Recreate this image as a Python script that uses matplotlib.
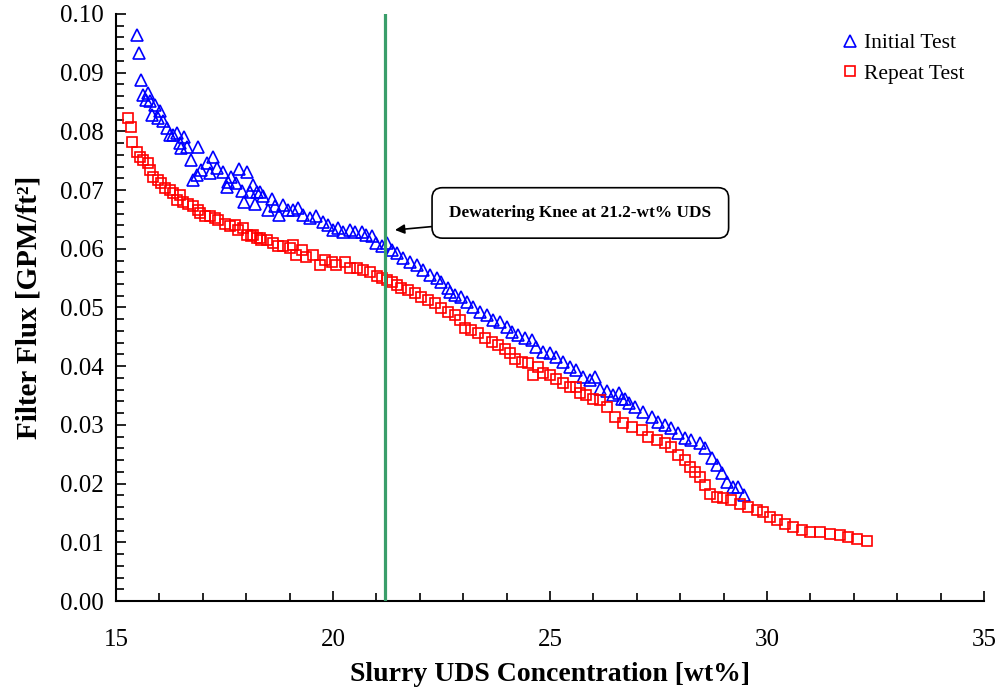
import matplotlib
matplotlib.use('Agg')
import matplotlib.pyplot as plt
from matplotlib.ticker import MultipleLocator, FormatStrFormatter

# Initial test (blue triangles)
init_x = [15.48, 15.53, 15.58, 15.63, 15.74, 15.69, 15.78, 15.90, 15.84, 16.01,
          15.97, 16.09, 16.17, 16.24, 16.32, 16.40, 16.47, 16.56, 16.51, 16.63,
          16.72, 16.90, 16.78, 16.86, 16.97, 17.09, 17.24, 17.17, 17.32, 17.47,
          17.55, 17.59, 17.66, 17.76, 17.84, 17.90, 17.95, 18.01, 18.09, 18.15,
          18.20, 18.24, 18.32, 18.39, 18.51, 18.59, 18.66, 18.76, 18.85, 18.97,
          19.09, 19.20, 19.32, 19.47, 19.62, 19.78, 19.89, 20.01, 20.12, 20.24,
          20.39, 20.51, 20.66, 20.77, 20.89, 20.99, 21.12, 21.24, 21.35, 21.47,
          21.62, 21.77, 21.93, 22.08, 22.24, 22.39, 22.50, 22.66, 22.70, 22.81,
          22.96, 23.08, 23.23, 23.39, 23.54, 23.69, 23.85, 24.00, 24.12, 24.27,
          24.42, 24.58, 24.69, 24.85, 25.00, 25.15, 25.31, 25.46, 25.61, 25.77,
          25.92, 26.04, 26.15, 26.31, 26.46, 26.58, 26.65, 26.73, 26.81, 26.96,
          27.15, 27.34, 27.50, 27.65, 27.80, 27.96, 28.11, 28.26, 28.46, 28.57,
          28.73, 28.84, 28.96, 29.07, 29.22, 29.34, 29.47]
init_y = [0.0964, 0.0933, 0.0888, 0.0862, 0.0865, 0.0853, 0.0851, 0.0845, 0.0828, 0.0834,
          0.0822, 0.0817, 0.0805, 0.0794, 0.0794, 0.0797, 0.0780, 0.0791, 0.0771, 0.0774,
          0.0751, 0.0774, 0.0717, 0.0726, 0.0734, 0.0746, 0.0757, 0.0729, 0.0737, 0.0731,
          0.0706, 0.0714, 0.0723, 0.0712, 0.0736, 0.0699, 0.0680, 0.0731, 0.0697, 0.0708,
          0.0676, 0.0697, 0.0697, 0.0689, 0.0666, 0.0685, 0.0672, 0.0658, 0.0675, 0.0666,
          0.0666, 0.0669, 0.0658, 0.0652, 0.0655, 0.0646, 0.0641, 0.0632, 0.0635, 0.0629,
          0.0632, 0.0629, 0.0629, 0.0624, 0.0621, 0.0609, 0.0604, 0.0609, 0.0598, 0.0592,
          0.0584, 0.0578, 0.0572, 0.0564, 0.0555, 0.0550, 0.0544, 0.0533, 0.0527, 0.0521,
          0.0518, 0.0510, 0.0501, 0.0493, 0.0487, 0.0479, 0.0476, 0.0467, 0.0459, 0.0453,
          0.0448, 0.0445, 0.0433, 0.0425, 0.0422, 0.0416, 0.0408, 0.0399, 0.0394, 0.0382,
          0.0376, 0.0382, 0.0362, 0.0357, 0.0351, 0.0355, 0.0345, 0.0345, 0.0337, 0.0331,
          0.0322, 0.0314, 0.0305, 0.0300, 0.0294, 0.0286, 0.0277, 0.0274, 0.0269, 0.0260,
          0.0243, 0.0232, 0.0218, 0.0203, 0.0195, 0.0195, 0.0181]

# Repeat test (red squares)
rep_x = [15.28, 15.34, 15.38, 15.48, 15.55, 15.63, 15.73, 15.78, 15.86, 15.97,
         16.05, 16.13, 16.24, 16.32, 16.47, 16.40, 16.55, 16.66, 16.78, 16.90,
         16.94, 17.05, 17.17, 17.28, 17.36, 17.51, 17.63, 17.74, 17.82, 17.93,
         18.01, 18.12, 18.16, 18.24, 18.32, 18.35, 18.47, 18.62, 18.74, 18.85,
         19.01, 19.09, 19.16, 19.28, 19.39, 19.55, 19.70, 19.82, 19.97, 20.08,
         20.28, 20.39, 20.55, 20.70, 20.85, 21.01, 21.12, 21.24, 21.35, 21.47,
         21.58, 21.73, 21.89, 22.04, 22.19, 22.35, 22.50, 22.66, 22.81, 22.93,
         23.04, 23.19, 23.35, 23.50, 23.66, 23.81, 23.96, 24.08, 24.19, 24.35,
         24.50, 24.61, 24.73, 24.85, 25.00, 25.15, 25.31, 25.46, 25.61, 25.69,
         25.84, 26.00, 26.15, 26.31, 26.50, 26.69, 26.88, 27.11, 27.27, 27.46,
         27.65, 27.80, 27.96, 28.11, 28.23, 28.34, 28.46, 28.57, 28.69, 28.84,
         28.99, 29.18, 29.38, 29.57, 29.76, 29.91, 30.07, 30.22, 30.41, 30.61,
         30.80, 30.99, 31.22, 31.45, 31.68, 31.87, 32.07, 32.30]
rep_y = [0.0822, 0.0808, 0.0782, 0.0765, 0.0757, 0.0751, 0.0746, 0.0734, 0.0723, 0.0717,
         0.0712, 0.0703, 0.0700, 0.0695, 0.0692, 0.0683, 0.0680, 0.0677, 0.0672, 0.0666,
         0.0661, 0.0655, 0.0655, 0.0652, 0.0649, 0.0643, 0.0638, 0.0641, 0.0632, 0.0635,
         0.0624, 0.0621, 0.0624, 0.0618, 0.0618, 0.0615, 0.0615, 0.0609, 0.0604, 0.0604,
         0.0601, 0.0606, 0.0589, 0.0598, 0.0586, 0.0589, 0.0572, 0.0581, 0.0578, 0.0572,
         0.0578, 0.0567, 0.0567, 0.0564, 0.0561, 0.0553, 0.0550, 0.0547, 0.0544, 0.0538,
         0.0533, 0.0530, 0.0524, 0.0518, 0.0513, 0.0507, 0.0499, 0.0493, 0.0487, 0.0479,
         0.0465, 0.0462, 0.0456, 0.0448, 0.0442, 0.0436, 0.0430, 0.0422, 0.0413, 0.0408,
         0.0405, 0.0385, 0.0399, 0.0388, 0.0385, 0.0379, 0.0371, 0.0365, 0.0365, 0.0354,
         0.0351, 0.0345, 0.0342, 0.0331, 0.0314, 0.0303, 0.0297, 0.0291, 0.0280, 0.0274,
         0.0269, 0.0263, 0.0249, 0.0240, 0.0229, 0.0220, 0.0212, 0.0198, 0.0183, 0.0178,
         0.0175, 0.0172, 0.0166, 0.0161, 0.0155, 0.0152, 0.0144, 0.0138, 0.0132, 0.0127,
         0.0121, 0.0118, 0.0117, 0.0115, 0.0112, 0.0110, 0.0105, 0.0103]

knee_x = 21.2
knee_label = 'Dewatering Knee at 21.2-wt% UDS'

plt.rcParams['font.family'] = ['Liberation Serif', 'DejaVu Serif']

fig, ax = plt.subplots(figsize=(9.99, 6.91), dpi=100)
fig.subplots_adjust(left=0.116, right=0.985, bottom=0.130, top=0.980)

ax.plot(init_x, init_y, linestyle='none', marker='^', markersize=8, mfc='none',
        mec='#0000ff', mew=1.2, label='Initial Test')
ax.plot(rep_x, rep_y, linestyle='none', marker='s', markersize=7.5, mfc='none',
        mec='#ff0000', mew=1.2, label='Repeat Test')

ax.axvline(knee_x, color='#3a9e6a', linewidth=2.3, zorder=3)
# callout box for the knee
ax.annotate(knee_label, xy=(21.43, 0.0632), xytext=(25.7, 0.0661),
            fontsize=12.4, fontweight='bold', ha='center', va='center',
            bbox=dict(boxstyle='round,pad=1.0,rounding_size=0.6', fc='white', ec='black', lw=1.2),
            arrowprops=dict(arrowstyle='-|>', color='black', lw=1.2, mutation_scale=14,
                            shrinkA=0, shrinkB=0))

ax.set_xlim(15, 35)
ax.set_ylim(0, 0.10)
ax.xaxis.set_major_locator(MultipleLocator(5))
ax.xaxis.set_minor_locator(MultipleLocator(1))
ax.yaxis.set_major_locator(MultipleLocator(0.01))
ax.yaxis.set_minor_locator(MultipleLocator(0.002))
ax.yaxis.set_major_formatter(FormatStrFormatter('%.2f'))
ax.tick_params(which='major', direction='in', length=7, width=1.2, labelsize=18, pad=9)
ax.tick_params(which='minor', direction='in', length=6, width=1.2)
ax.tick_params(axis='x', pad=20)

for side in ['top', 'right']:
    ax.spines[side].set_visible(False)
for side in ['left', 'bottom']:
    ax.spines[side].set_linewidth(1.5)

ax.set_xlabel('Slurry UDS Concentration [wt%]', fontsize=20, fontweight='bold', labelpad=8)
ax.set_ylabel('Filter Flux [GPM/ft²]', fontsize=21, fontweight='bold', labelpad=12)

ax.legend(loc='upper right', bbox_to_anchor=(0.995, 0.993), frameon=False, fontsize=15.5,
          handletextpad=0.15, handlelength=1.0, borderaxespad=0.3, labelspacing=0.5)

fig.savefig('out.png', dpi=100)
